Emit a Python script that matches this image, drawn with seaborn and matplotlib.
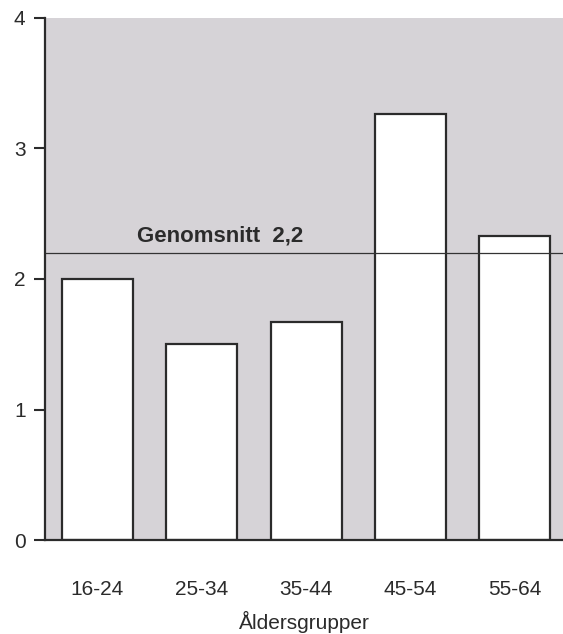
import numpy as np
import pandas as pd
import matplotlib
matplotlib.use("Agg")
import matplotlib.pyplot as plt
import seaborn as sns

# data
aldersgrupper = ["16-24", "25-34", "35-44", "45-54", "55-64"]
varden = [2.0, 1.5, 1.67, 3.26, 2.33]
genomsnitt = 2.2
y_ticks = [0, 1, 2, 3, 4]

df = pd.DataFrame({"Aldersgrupp": aldersgrupper, "Varde": varden})

sns.set_theme(style="white")
plt.rcParams["font.family"] = ["Liberation Sans", "DejaVu Sans"]

fig = plt.figure(figsize=(5.63, 6.34), dpi=100)
ax = fig.add_axes([0.080, 0.148, 0.920, 0.824])
ax.set_facecolor("#d6d3d7")

sns.barplot(data=df, x="Aldersgrupp", y="Varde", color="white",
            edgecolor="#2b2b2b", linewidth=1.6, width=0.68, saturation=1, ax=ax)

# average line
ax.axhline(genomsnitt, color="#333333", linewidth=0.9, zorder=1)
ax.text(0.38, genomsnitt + 0.05, "Genomsnitt  2,2", fontsize=16, fontweight="bold",
        color="#2b2b2b", ha="left", va="bottom")

ax.set_ylim(0, 4)
ax.set_xlim(-0.5, 4.46)
ax.set_yticks(y_ticks)
ax.set_yticklabels([str(t) for t in y_ticks], fontsize=15, color="#2b2b2b")
ax.tick_params(axis="y", direction="out", length=8, width=1.5, color="#2b2b2b", pad=6, left=True)
ax.tick_params(axis="x", length=0, labelsize=15, labelcolor="#2b2b2b", pad=29)

for side in ["top", "right"]:
    ax.spines[side].set_visible(False)
for side in ["left", "bottom"]:
    ax.spines[side].set_color("#2b2b2b")
    ax.spines[side].set_linewidth(1.6)

ax.set_ylabel("")
ax.set_xlabel("Åldersgrupper", fontsize=15, color="#2b2b2b", labelpad=8)

fig.savefig("out.png", dpi=100, facecolor="white")
